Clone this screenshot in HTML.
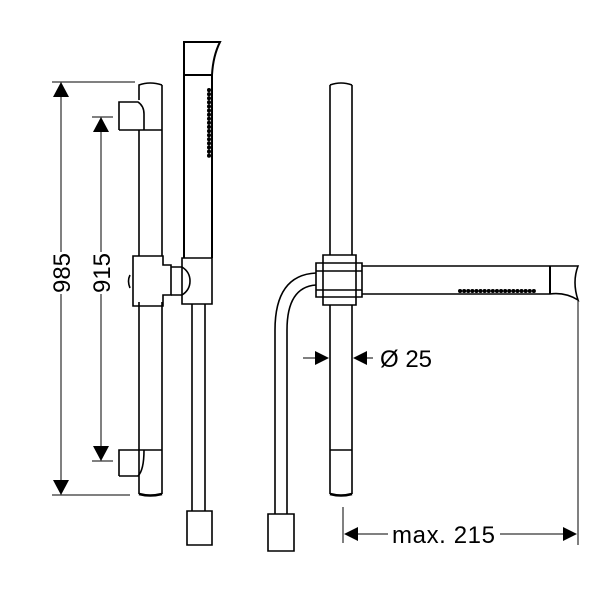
<!DOCTYPE html>
<html><head><style>body{margin:0;background:#fff}svg{display:block}</style></head><body>
<svg width="600" height="600" viewBox="0 0 600 600" xmlns="http://www.w3.org/2000/svg" font-family="Liberation Sans, sans-serif">
<g fill="none" stroke="#000" stroke-width="1.6">
<!-- dims left -->
<line x1="52" y1="82" x2="135" y2="82" stroke-width="1"/>
<line x1="52" y1="495" x2="130" y2="495" stroke-width="1"/>
<line x1="61" y1="90" x2="61" y2="252" stroke-width="1"/>
<line x1="61" y1="294" x2="61" y2="488" stroke-width="1"/>
<line x1="92" y1="117" x2="113" y2="117" stroke-width="1"/>
<line x1="92" y1="461" x2="113" y2="461" stroke-width="1"/>
<line x1="101" y1="125" x2="101" y2="252" stroke-width="1"/>
<line x1="101" y1="294" x2="101" y2="454" stroke-width="1"/>
<!-- left rail -->
<path d="M139 494 V302 M162 494 V302 M139 256 V130 M162 256 V85 M139 100 V85 Q150 81 162 85"/>
<path d="M139 494 Q150 497 162 494" stroke-width="2.5"/>
<path d="M119 130 V102 H138 Q144 106 144 114 V130 H162 M119 130 H144"/>
<path d="M119 476 V450 H162 M119 476 H138 Q144 470 144 450"/>
<path d="M133 256 H163 V265 H171 V295 H163 V306 H133 Z"/>
<path d="M171 267 H182 Q190 272 190 281 Q190 290 182 295 H171"/>
<path d="M130 275 Q127 281 130 288"/>
<path d="M182 258 H212 V304 H182 Z"/>
<!-- hand shower -->
<path d="M184 258 V42 H220 Q213 56 212 75 V258" stroke-width="2"/>
<line x1="184" y1="75" x2="212" y2="75" stroke-width="2"/>
<path d="M209 90 V158" stroke-width="4" stroke-linecap="round" stroke-dasharray="0.1 4"/>
<!-- hose left -->
<path d="M192 304 V511 M205 304 V511"/>
<path d="M187 511 H212 V545 H187 Z"/>
<!-- right view rail -->
<path d="M330 494 V305 M352 494 V305 M330 255 V85 M352 255 V85 M330 85 Q341 81 352 85"/>
<path d="M330 494 Q341 497 352 494" stroke-width="2.5"/>
<line x1="330" y1="450" x2="352" y2="450"/>
<path d="M323 255 H356 V305 H323 Z"/>
<path d="M316 263 H362 V297 H316 Z"/>
<line x1="316" y1="271" x2="362" y2="271"/>
<line x1="316" y1="290" x2="362" y2="290"/>
<!-- arm -->
<path d="M362 266 H578 Q572 282 578 300 Q565 292 550 294 H362"/>
<line x1="550" y1="266" x2="550" y2="294" stroke-width="2"/>
<path d="M460 291 H536" stroke-width="4" stroke-linecap="round" stroke-dasharray="0.1 4"/>
<!-- hose curve -->
<path d="M316 273 Q275 275 275 330 V514 M316 285 Q287 287 287 330 V514" />
<path d="M268 514 H294 V551 H268 Z"/>
<!-- Ø25 -->
<line x1="303" y1="358" x2="318" y2="358" stroke-width="1"/>
<line x1="364" y1="358" x2="373" y2="358" stroke-width="1"/>
<!-- max 215 -->
<line x1="343" y1="507" x2="343" y2="543" stroke-width="1"/>
<line x1="578" y1="300" x2="578" y2="545" stroke-width="1"/>
<line x1="355" y1="534" x2="388" y2="534" stroke-width="1"/>
<line x1="500" y1="534" x2="566" y2="534" stroke-width="1"/>
</g>
<g fill="#000">
<polygon points="61,82 53,97 69,97"/>
<polygon points="61,495 53,480 69,480"/>
<polygon points="101,117 93,132 109,132"/>
<polygon points="101,461 93,446 109,446"/>
<polygon points="329,358 315,351 315,365"/>
<polygon points="353,358 367,351 367,365"/>
<polygon points="344,534 358,527 358,541"/>
<polygon points="577,534 563,527 563,541"/>
</g>
<g font-size="24" fill="#000">
<text transform="translate(70,273) rotate(-90)" text-anchor="middle">985</text>
<text transform="translate(110,273) rotate(-90)" text-anchor="middle">915</text>
<text x="380" y="367">Ø 25</text>
<text x="392" y="543" textLength="103">max. 215</text>
</g>
</svg>
</body></html>
